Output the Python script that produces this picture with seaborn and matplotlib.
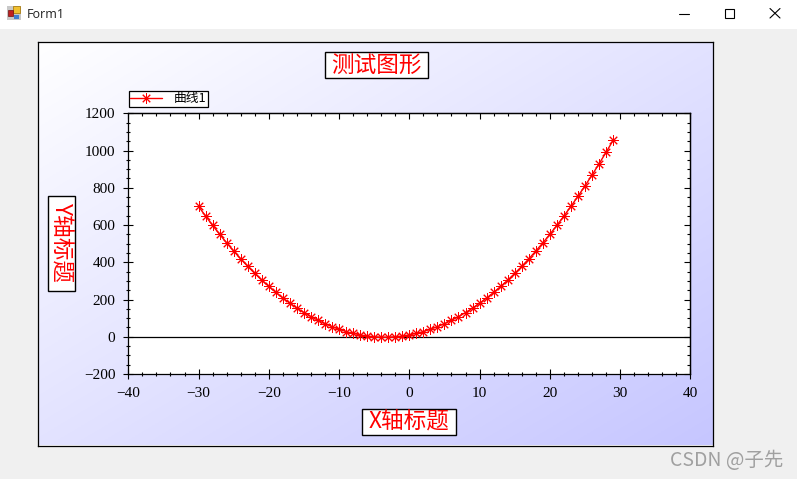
import matplotlib
matplotlib.use("Agg")
import matplotlib.pyplot as plt
import matplotlib.patches as patches
from matplotlib.ticker import MultipleLocator
import numpy as np
import pandas as pd
import seaborn as sns

# values
x_values = list(range(-30, 30))
y_values = [700, 648, 598, 550, 504, 460, 418, 378, 340, 304,
            270, 238, 208, 180, 154, 130, 108, 88, 70, 54,
            40, 28, 18, 10, 4, 0, -2, -2, 0, 4,
            10, 18, 28, 40, 54, 70, 88, 108, 130, 154,
            180, 208, 238, 270, 304, 340, 378, 418, 460, 504,
            550, 598, 648, 700, 754, 810, 868, 928, 990, 1054]
curve_name = "曲线1"
chart_title = "测试图形"
x_title = "X轴标题"
y_title = "Y轴标题"
window_title = "Form1"
watermark = "CSDN @子先"

W, H = 797, 479

sns.set_theme(style="ticks")
plt.rcParams['font.family'] = ['Noto Sans CJK SC', 'DejaVu Sans']
plt.rcParams['axes.unicode_minus'] = True


def px_axes(fig, left, top, right, bottom, **kw):
    return fig.add_axes([left / W, 1 - bottom / H, (right - left) / W, (bottom - top) / H], **kw)


def fx(x):
    return x / W


def fy(y):
    return 1 - y / H


def frect(fig, x0, y0, x1, y1, **kw):
    fig.add_artist(patches.Rectangle((fx(x0), fy(y1)), (x1 - x0) / W, (y1 - y0) / H,
                                     transform=fig.transFigure, **kw))


def fline(fig, xs, ys, **kw):
    fig.add_artist(plt.Line2D([fx(x) for x in xs], [fy(y) for y in ys],
                              transform=fig.transFigure, **kw))


def boxed_title(fig, x0, y0, x1, y1, text, **kw):
    frect(fig, x0, y0, x1, y1, facecolor="white", edgecolor="black", linewidth=1)
    fig.text(fx((x0 + x1) / 2), fy((y0 + y1) / 2), text, color="red", fontsize=16.3,
             ha="center", va="center", **kw)


fig = plt.figure(figsize=(W / 100, H / 100), dpi=100, facecolor="#f0f0f0")

# window title bar
frect(fig, 0, 0, W, 29, facecolor="white", edgecolor="none")
frect(fig, 7, 6, 21, 20, facecolor="#c8c8c8", edgecolor="none")
frect(fig, 13, 6, 20, 13, facecolor="#f0c030", edgecolor="#a07000", linewidth=0.5)
frect(fig, 8, 10, 13, 16, facecolor="#c02020", edgecolor="#701010", linewidth=0.5)
frect(fig, 14, 15, 19, 19, facecolor="#4080d0", edgecolor="none")
fig.text(fx(27), fy(14), window_title, fontsize=9, color="#222222", va="center", ha="left",
         family=['Open Sans', 'DejaVu Sans'])
fline(fig, [679, 689], [13.5, 13.5], color="black", lw=0.8)
frect(fig, 724.5, 8.5, 733.5, 17.5, facecolor="none", edgecolor="black", linewidth=0.8)
fline(fig, [770, 780], [8.5, 18], color="black", lw=0.8)
fline(fig, [770, 780], [18, 8.5], color="black", lw=0.8)

# gradient panel
panel = px_axes(fig, 38, 41.5, 713, 445.5)
u, v = np.meshgrid(np.linspace(0, 1, 300), np.linspace(0, 1, 200))
t = ((u + v) / 2)[..., None]
grad = (1 - t) * np.array([1.0, 1.0, 1.0]) + t * np.array([198, 198, 255]) / 255
panel.imshow(grad, aspect="auto", extent=(0, 1, 0, 1), origin="upper")
panel.set_xticks([])
panel.set_yticks([])
for s in panel.spines.values():
    s.set_linewidth(0.9)
    s.set_color("black")

# the plot
ax = px_axes(fig, 128.3, 113.3, 690.3, 374, facecolor="white")
df = pd.DataFrame({"x": x_values, "y": y_values})
sns.lineplot(data=df, x="x", y="y", ax=ax, color="red", lw=1, marker=(8, 2, 0), ms=7.5,
             mew=0.7, mec="red", label=curve_name, sort=False, errorbar=None, zorder=3,
             clip_on=False)
ax.axhline(0, color="black", lw=0.9, zorder=1)
ax.set_xlim(-40, 40)
ax.set_ylim(-200, 1200)
ax.set_xlabel("")
ax.set_ylabel("")
ax.xaxis.set_major_locator(MultipleLocator(10))
ax.xaxis.set_minor_locator(MultipleLocator(2))
ax.yaxis.set_major_locator(MultipleLocator(200))
ax.yaxis.set_minor_locator(MultipleLocator(50))
for s in ax.spines.values():
    s.set_linewidth(0.9)
    s.set_color("black")
ax.tick_params(which="major", direction="inout", length=7.5, width=0.8, color="black",
               labelsize=11, labelcolor="black", pad=5.5)
ax.tick_params(which="minor", direction="inout", length=3.2, width=0.8, color="black")
for lab in ax.get_xticklabels() + ax.get_yticklabels():
    lab.set_family(['Liberation Serif', 'DejaVu Serif'])

# top and right axes only have inward ticks
top = ax.secondary_xaxis("top")
top.xaxis.set_major_locator(MultipleLocator(10))
top.xaxis.set_minor_locator(MultipleLocator(2))
top.tick_params(which="major", direction="in", length=4, width=0.8, labeltop=False, color="black")
top.tick_params(which="minor", direction="in", length=2.2, width=0.8, color="black")
right = ax.secondary_yaxis("right")
right.yaxis.set_major_locator(MultipleLocator(200))
right.yaxis.set_minor_locator(MultipleLocator(50))
right.tick_params(which="major", direction="in", length=4, width=0.8, labelright=False, color="black")
right.tick_params(which="minor", direction="in", length=2.2, width=0.8, color="black")
for sec in (top, right):
    for s in sec.spines.values():
        s.set_linewidth(0.9)
        s.set_color("black")

leg = ax.legend(loc="lower left", bbox_to_anchor=(fx(128.5), fy(106.5)),
                bbox_transform=fig.transFigure, fontsize=9.2, frameon=True, fancybox=False,
                edgecolor="black", facecolor="white", framealpha=1, borderpad=0.1,
                borderaxespad=0, handlelength=2.5, handletextpad=0.95, labelspacing=0,
                labelcolor="black")
leg.get_frame().set_linewidth(0.9)

# titles in boxes
boxed_title(fig, 324.5, 52.5, 427.5, 78, chart_title)
boxed_title(fig, 362, 409, 455.5, 435, x_title)
boxed_title(fig, 48, 196, 74.5, 290.5, y_title, rotation=-90)

fig.text(fx(727), fy(461), watermark, color="#a0a0a0", fontsize=14, ha="center", va="center",
         family=['Noto Sans CJK SC', 'DejaVu Sans'])

fig.savefig("out.png", dpi=100, facecolor=fig.get_facecolor())
